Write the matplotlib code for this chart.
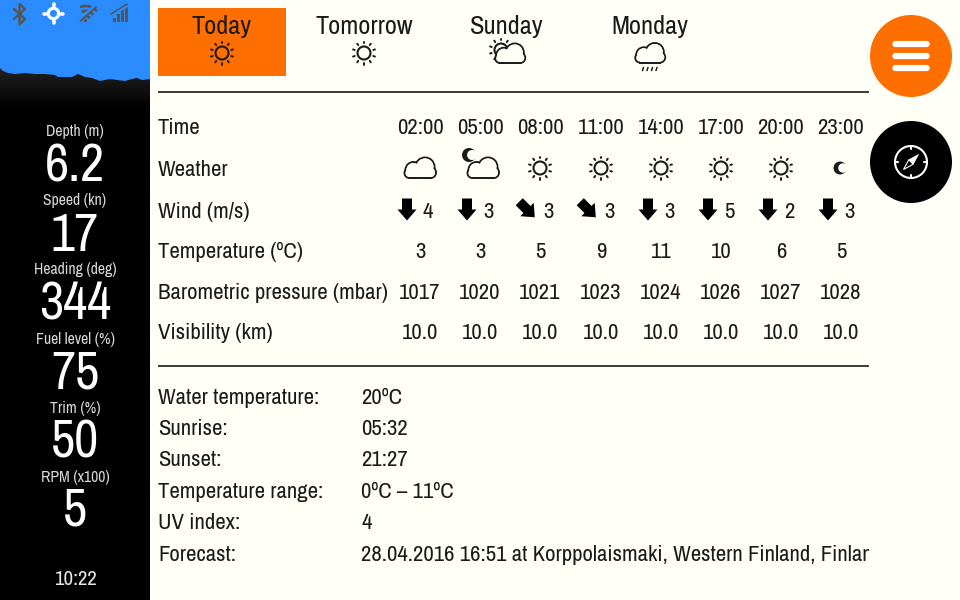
import numpy as np
import matplotlib
matplotlib.use('Agg')
import matplotlib.pyplot as plt
from matplotlib.patches import Circle, Rectangle, Polygon, FancyBboxPatch
from matplotlib.transforms import Bbox

plt.rcParams['font.family'] = ['Archivo Narrow', 'Liberation Sans', 'DejaVu Sans']

# sidebar
gauge_labels = ['Depth (m)', 'Speed (kn)', 'Heading (deg)', 'Fuel level (%)', 'Trim (%)', 'RPM (x100)']
gauge_values = ['6.2', '17', '344', '75', '50', '5']
clock = '10:22'
skyline_x = [0, 3, 8, 15, 25, 35, 45, 55, 58, 72, 78, 85, 92, 100, 110, 125, 132, 137, 142, 150]
skyline_y = [68, 71, 73, 74, 73, 74, 74, 75, 77, 77, 74, 77, 78, 81, 79, 81, 79, 78, 80, 79]

# forecast tabs
days = ['Today', 'Tomorrow', 'Sunday', 'Monday']
day_icons = ['sun', 'sun', 'sun_cloud', 'rain']

# hourly table
row_labels = ['Time', 'Weather', 'Wind (m/s)', 'Temperature (ºC)', 'Barometric pressure (mbar)', 'Visibility (km)']
hours = ['02:00', '05:00', '08:00', '11:00', '14:00', '17:00', '20:00', '23:00']
weather = ['cloud', 'moon_cloud', 'sun', 'sun', 'sun', 'sun', 'sun', 'moon']
wind_speed = [4, 3, 3, 3, 3, 5, 2, 3]
wind_angle = [0, 0, 45, 45, 0, 0, 0, 0]
temperature = [3, 3, 5, 9, 11, 10, 6, 5]
pressure = [1017, 1020, 1021, 1023, 1024, 1026, 1027, 1028]
visibility = ['10.0', '10.0', '10.0', '10.0', '10.0', '10.0', '10.0', '10.0']

# details
detail_labels = ['Water temperature:', 'Sunrise:', 'Sunset:', 'Temperature range:', 'UV index:', 'Forecast:']
detail_values = ['20ºC', '05:32', '21:27', '0ºC – 11ºC', '4',
                 '28.04.2016 16:51 at Korppolaismaki, Western Finland, Finland']

BG = '#fffff8'
INK = '#1a1a1a'
ORANGE = '#ff6f00'
SKY = '#2a8cff'
GREY = '#555555'
FS = 16.4

fig = plt.figure(figsize=(9.6, 6), dpi=100, facecolor=BG)
ax = fig.add_axes([0, 0, 1, 1])
ax.set_xlim(0, 960)
ax.set_ylim(600, 0)
ax.axis('off')


def line(x, y, color=INK, lw=1.3, z=5):
    ax.plot(x, y, color=color, lw=lw, solid_capstyle='round', zorder=z)


def sun(x, y, r=6.5, color=INK):
    ax.add_patch(Circle((x, y), r, fill=False, ec=color, lw=1.5, zorder=5))
    for a in np.arange(0, 360, 36) + 18:
        c, s = np.cos(np.radians(a)), np.sin(np.radians(a))
        line([x + c * (r + 3.3), x + c * (r + 5)], [y + s * (r + 3.3), y + s * (r + 5)], color, 1.4)


def cloud(x, y, s=1.0, color=INK, face=BG):
    # union of circles: outlines first, then the same circles filled to hide the inside
    bumps = [(-10.5, 5, 5), (-6.5, 2, 8), (5, -1, 9.5), (10.5, 4.5, 5.5)]
    for a, b, r in bumps:
        ax.add_patch(Circle((x + a * s, y + b * s), r * s, fc=face, ec=color, lw=1.4, zorder=6))
    for a, b, r in bumps:
        ax.add_patch(Circle((x + a * s, y + b * s), r * s - 0.9, fc=face, ec='none', zorder=6.1))
    ax.add_patch(Rectangle((x - 10.5 * s, y + 1 * s), 21 * s, 8.6 * s, fc=face, ec='none', zorder=6.2))
    ax.plot([x - 10.5 * s, x + 10.5 * s], [y + 10 * s, y + 10 * s], color=color, lw=1.4, zorder=6.3)


def moon(x, y, r=6.5, color=INK):
    # crescent open to the right
    ax.add_patch(Circle((x, y), r, fc=color, ec='none', zorder=5))
    ax.add_patch(Circle((x + r * 0.45, y), r * 0.72, fc=BG, ec='none', zorder=5))


def icon(kind, x, y):
    if kind == 'sun':
        sun(x, y)
    elif kind == 'cloud':
        cloud(x, y)
    elif kind == 'moon':
        moon(x - 1, y, 6.5)
    elif kind == 'moon_cloud':
        moon(x - 11, y - 13, 7)
        cloud(x + 3, y)
    elif kind == 'sun_cloud':
        sun(x - 6, y - 3, 6.5)
        cloud(x + 3, y + 0.5, 0.95)
    elif kind == 'rain':
        cloud(x, y, 0.95)
        for dx in (-7.5, -3, 1.5, 6):
            line([x + dx, x + dx + 1], [y + 17.5, y + 14.5], INK, 1.1)


def wind_arrow(x, y, angle):
    pts = np.array([[-5, -11], [5, -11], [5, 0], [9.5, 0], [0, 11], [-9.5, 0], [-5, 0]], float)
    t = np.radians(-angle)
    rot = np.array([[np.cos(t), -np.sin(t)], [np.sin(t), np.cos(t)]])
    ax.add_patch(Polygon(pts @ rot.T + [x, y], fc='black', ec='none', zorder=5))


def rule(y):
    ax.plot([158, 869], [y, y], color=INK, lw=1.2, solid_capstyle='butt', zorder=2)


# left panel
ax.add_patch(Rectangle((0, 0), 150, 600, fc='black', ec='none', zorder=1))
ax.add_patch(Rectangle((0, 0), 150, 82, fc=SKY, ec='none', zorder=1))
hill = Polygon(list(zip(skyline_x, skyline_y)) + [(150, 112), (0, 112)], fc='none', ec='none', zorder=2)
ax.add_patch(hill)
grad = np.linspace(0.13, 0, 64)[:, None]
im = ax.imshow(grad, extent=(0, 150, 110, 68), cmap='gray', vmin=0, vmax=1, aspect='auto', zorder=2)
im.set_clip_path(hill)
ax.set_xlim(0, 960)
ax.set_ylim(600, 0)

# status icons
line([14, 25, 19.5, 19.5, 25, 14], [9, 19, 24.5, 4, 9, 19], GREY, 1.7, 3)
ax.add_patch(Circle((53.5, 13.5), 5.2, fill=False, ec='white', lw=2.3, zorder=3))
for dx, dy in ((-9.5, 0), (9.5, 0), (0, -9.5), (0, 9.5)):
    line([53.5 + dx * 0.8, 53.5 + dx], [13.5 + dy * 0.8, 13.5 + dy], 'white', 2.6, 3)
for rad in (5, 10, 15):
    th = np.linspace(-0.55, 0.55, 10)
    line(85.5 + rad * np.sin(th + 0.25), 21 - rad * np.cos(th + 0.25), GREY, 2.0, 3)
line([79, 96], [20, 5], SKY, 2.4, 3.1)
line([80.5, 96], [21, 7], GREY, 1.3, 3.2)
ax.add_patch(Circle((85.5, 20.5), 1.6, fc=GREY, ec='none', zorder=3.3))
for i, h in enumerate((4, 8, 13, 18)):
    ax.add_patch(Rectangle((113 + i * 3.9, 21.5 - h), 3, h, fc=GREY, ec='none', zorder=3))
ax.plot([111, 129], [16.5, 5], color=SKY, lw=1.5, zorder=3.1)
ax.plot([111, 127], [14, 4], color=GREY, lw=1.1, zorder=3.2)

for i, (lab, val) in enumerate(zip(gauge_labels, gauge_values)):
    ax.text(75, 136 + i * 69.2, lab, color='#d8d8d8', fontsize=11.3, ha='center', va='baseline', zorder=4)
    ax.text(75, 182 + i * 68.8, val, color='white', fontsize=38, ha='center', va='baseline', zorder=4)
ax.text(75, 585, clock, color='#e8e8e8', fontsize=15, ha='center', va='baseline', zorder=4)

# tabs
ax.add_patch(Rectangle((158, 8), 127.5, 67.5, fc=ORANGE, ec='none', zorder=1))
day_x = [222, 364, 507, 650]
for x, name, kind in zip(day_x, days, day_icons):
    ax.text(x, 34, name, color=INK, fontsize=19, ha='center', va='baseline', zorder=4)
    icon(kind, x, 53)

rule(91.5)
rule(365.5)

# hourly table
col_x = [420, 480, 540, 601, 661, 721, 781, 841]
row_y = [134, 176, 218, 258, 299, 339]
for y, lab in zip(row_y, row_labels):
    ax.text(158, y, lab, color=INK, fontsize=FS, ha='left', va='baseline', zorder=4)
for i, x in enumerate(col_x):
    ax.text(x, row_y[0], hours[i], color=INK, fontsize=FS, ha='center', va='baseline', zorder=4)
    icon(weather[i], x, 168)
    wind_arrow(x - 13, 209.5, wind_angle[i])
    ax.text(x + 8, row_y[2], str(wind_speed[i]), color=INK, fontsize=FS, ha='center', va='baseline', zorder=4)
    ax.text(x, row_y[3], str(temperature[i]), color=INK, fontsize=FS, ha='center', va='baseline', zorder=4)
    ax.text(x, row_y[4], str(pressure[i]), color=INK, fontsize=FS, ha='center', va='baseline', zorder=4)
    ax.text(x, row_y[5], visibility[i], color=INK, fontsize=FS, ha='center', va='baseline', zorder=4)

# details, the last line is cut off at the panel edge
detail_y = [404, 435, 466, 498, 529, 561]
clip = Bbox.from_extents(0, 0, 869, 600)
for y, lab, val in zip(detail_y, detail_labels, detail_values):
    ax.text(158, y, lab, color=INK, fontsize=FS, ha='left', va='baseline', zorder=4)
    t = ax.text(361, y, val, color=INK, fontsize=FS, ha='left', va='baseline', zorder=4, clip_on=True)
    t.set_clip_box(clip)

# round buttons
ax.add_patch(Circle((911, 56), 41, fc=ORANGE, ec='none', zorder=3))
for y in (44, 56, 68):
    ax.add_patch(FancyBboxPatch((894, y - 1.5), 34, 3, boxstyle='round,pad=1.6,rounding_size=3',
                                fc='white', ec='none', zorder=4))
ax.add_patch(Circle((911, 162), 41, fc='black', ec='none', zorder=3))
ax.add_patch(Circle((911, 162), 16, fill=False, ec='white', lw=1.5, zorder=4))
for dx, dy in ((-16, 0), (16, 0), (0, -16), (0, 16)):
    line([911 + dx, 911 + dx * 0.8], [162 + dy, 162 + dy * 0.8], 'white', 1.5, 4)
ax.add_patch(Polygon([(918.5, 154.5), (913.2, 164.2), (908.8, 159.8)], fc='white', ec='white', lw=0.5, zorder=4))
ax.add_patch(Polygon([(903.5, 169.5), (908.8, 159.8), (913.2, 164.2)], fc='black', ec='white', lw=0.8, zorder=4))

fig.savefig('out.png', dpi=100, facecolor=BG)
